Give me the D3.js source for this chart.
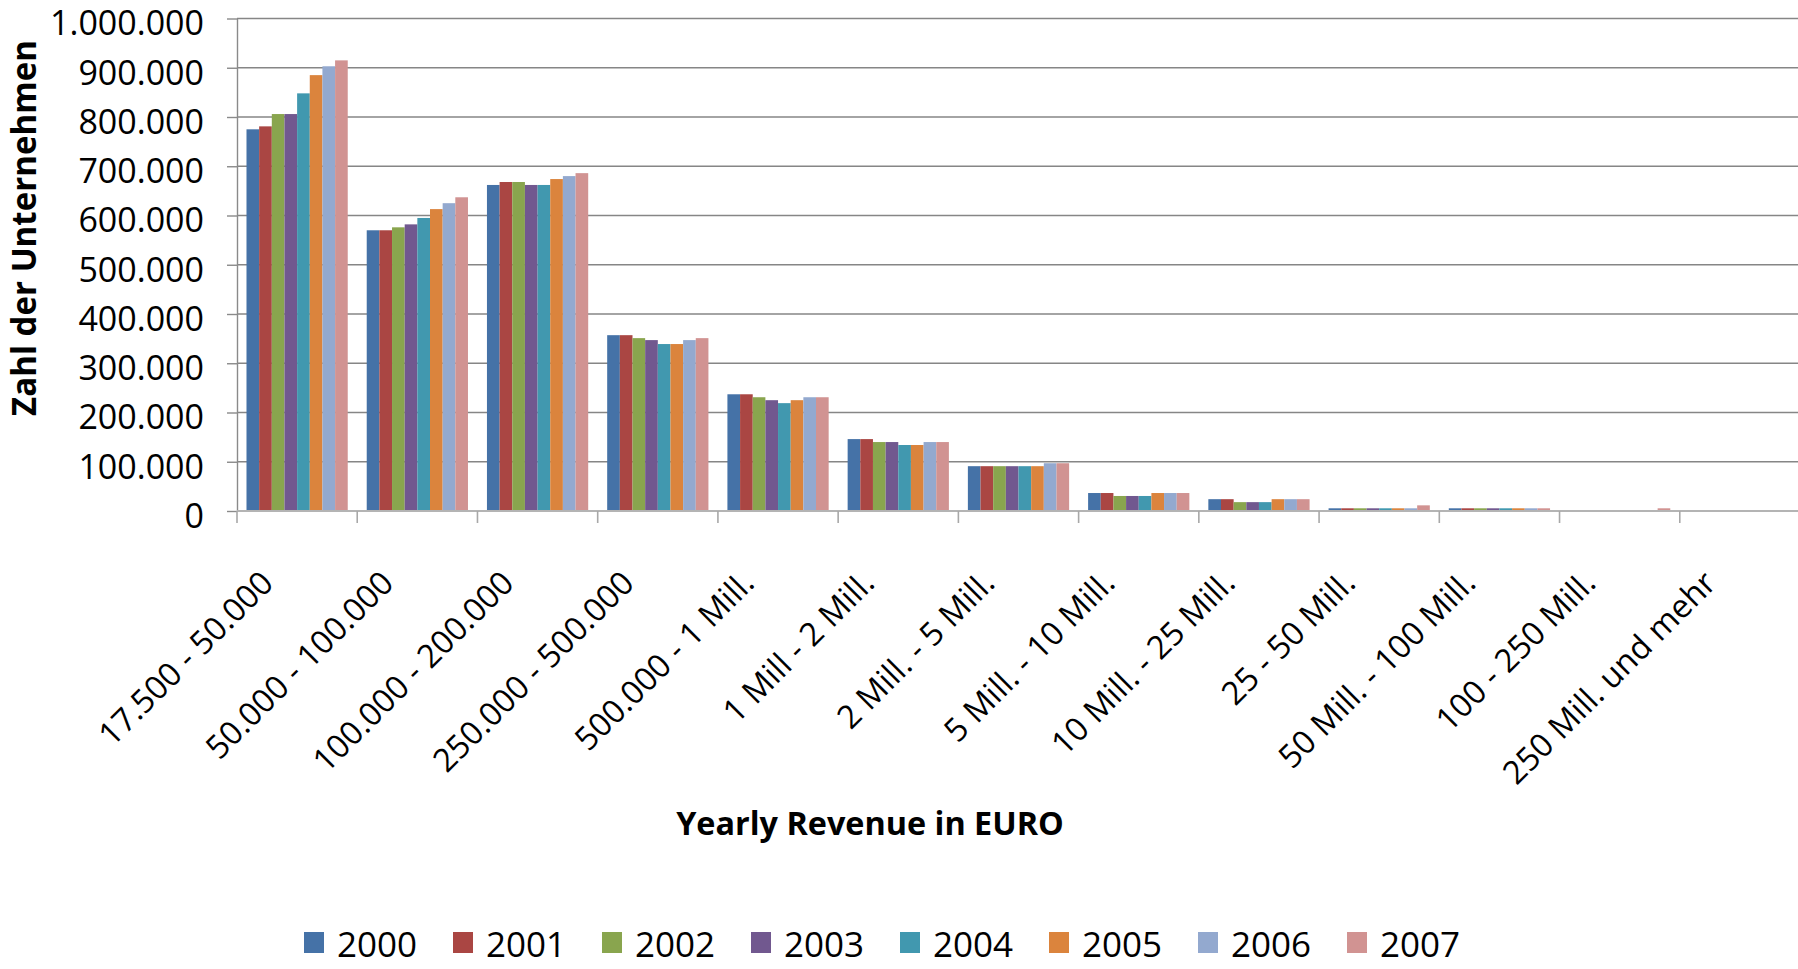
<!DOCTYPE html>
<html>
<head>
<meta charset="utf-8">
<script src="https://cdn.jsdelivr.net/npm/d3@7"></script>
<style>
  html, body { margin: 0; padding: 0; background: #ffffff; }
  svg { display: block; }
</style>
</head>
<body>
<svg id="chart" width="1798" height="969"></svg>
<script>
const categories = ["17.500 - 50.000", "50.000 - 100.000", "100.000 - 200.000", "250.000 - 500.000",
  "500.000 - 1 Mill.", "1 Mill - 2 Mill.", "2 Mill. - 5 Mill.", "5 Mill. - 10 Mill.",
  "10 Mill. - 25 Mill.", "25 - 50 Mill.", "50 Mill. - 100 Mill.", "100 - 250 Mill.", "250 Mill. und mehr"];
const years = ["2000", "2001", "2002", "2003", "2004", "2005", "2006", "2007"];
const v2000 = [775000, 570000, 662000, 357000, 237000, 146000, 91000, 36500, 24000, 5500, 5500, 0, 0];
const v2001 = [781000, 570000, 668000, 357000, 237000, 146000, 91000, 36500, 24000, 5500, 5500, 0, 0];
const v2002 = [806000, 576000, 668000, 351000, 231000, 140000, 91000, 30500, 18000, 5500, 5500, 0, 0];
const v2003 = [806000, 582000, 662000, 347000, 225000, 140000, 91000, 30500, 18000, 5500, 5500, 0, 0];
const v2004 = [848000, 595000, 662000, 339000, 219000, 134000, 91000, 30500, 18000, 5500, 5500, 0, 0];
const v2005 = [885000, 613000, 674000, 339000, 225000, 134000, 91000, 36500, 24000, 5500, 5500, 0, 0];
const v2006 = [903000, 625000, 680000, 347000, 231000, 140000, 97000, 36500, 24000, 5500, 5500, 0, 0];
const v2007 = [915000, 637000, 686000, 351000, 231000, 140000, 97000, 36500, 24000, 11500, 5500, 5500, 0];
const seriesValues = [v2000, v2001, v2002, v2003, v2004, v2005, v2006, v2007];
const colors = ["#4572A7", "#AA4643", "#89A54E", "#71588F", "#4198AF", "#DB843D", "#93A9CF", "#D19392"];
const yTicks = [0, 100000, 200000, 300000, 400000, 500000, 600000, 700000, 800000, 900000, 1000000];
const yTitle = "Zahl der Unternehmen";
const xTitle = "Yearly Revenue in EURO";

const W = 1798, H = 969;
const plotLeft = 237, plotRight = 1800, plotTop = 18.5, plotBottom = 511;
const font = "'Open Sans', sans-serif";

const svg = d3.select("#chart");
svg.append("rect").attr("width", W).attr("height", H).attr("fill", "#fff");

const y = d3.scaleLinear().domain([0, 1000000]).range([plotBottom, plotTop]);
const x0 = d3.scaleBand().domain(categories).range([plotLeft, plotRight]);
const bw = x0.bandwidth();
const barW = bw / 9.5;
const x1 = d3.scaleBand().domain(years).range([0.75 * barW, bw - 0.75 * barW]);
const color = d3.scaleOrdinal().domain(years).range(colors);

const de = d3.formatLocale({decimal: ",", thousands: ".", grouping: [3], currency: ["", " €"]});
const fmt = de.format(",d");

// gridlines
svg.append("g").selectAll("line").data(yTicks.filter(d => d > 0)).join("line")
  .attr("x1", plotLeft).attr("x2", W)
  .attr("y1", d => y(d)).attr("y2", d => y(d))
  .attr("stroke", "#868686").attr("stroke-width", 1.4);

// bars
const groups = svg.append("g").selectAll("g").data(categories).join("g")
  .attr("transform", c => `translate(${x0(c)},0)`);
groups.selectAll("rect")
  .data((c, ci) => years.map((yr, si) => ({yr, v: seriesValues[si][ci]})))
  .join("rect")
  .attr("x", d => x1(d.yr))
  .attr("width", x1.bandwidth())
  .attr("y", d => y(d.v))
  .attr("height", d => y(0) - y(d.v))
  .attr("fill", d => color(d.yr));

// y axis
const yAxis = d3.axisLeft(y).tickValues(yTicks).tickFormat(fmt).tickSize(10).tickSizeOuter(0).tickPadding(23);
const gy = svg.append("g").attr("transform", `translate(${plotLeft},0)`).call(yAxis);
gy.select(".domain").attr("stroke", "#8a8a8a").attr("stroke-width", 1.4);
gy.selectAll(".tick line").attr("stroke", "#8a8a8a").attr("stroke-width", 1.4);
gy.selectAll(".tick text").attr("font-family", font).attr("font-size", 34).attr("fill", "#000")
  .attr("dy", "0.48em");

// x axis (line + boundary ticks)
const gx = svg.append("g");
gx.append("line").attr("x1", plotLeft).attr("x2", W).attr("y1", y(0)).attr("y2", y(0))
  .attr("stroke", "#b4b4b4").attr("stroke-width", 1.8);
gx.selectAll("line.tk").data(categories).join("line").attr("class", "tk")
  .attr("x1", c => x0(c)).attr("x2", c => x0(c))
  .attr("y1", y(0)).attr("y2", y(0) + 12)
  .attr("stroke", "#a8a8a8").attr("stroke-width", 1.6);
gx.selectAll("text").data(categories).join("text")
  .attr("transform", c => `translate(${x0(c) + bw / 2 - 22},${y(0) + 74}) rotate(-45)`)
  .attr("text-anchor", "end")
  .attr("font-family", font).attr("font-size", 32.5).attr("fill", "#000")
  .text(c => c);

// axis titles (bold, sized to the reference's extent)
function fitText(sel, target) {
  const len = sel.node().getComputedTextLength();
  sel.attr("font-size", 30 * target / len);
}
const yt = svg.append("text")
  .attr("transform", `translate(36,228) rotate(-90)`)
  .attr("text-anchor", "middle")
  .attr("font-family", font).attr("font-weight", "bold").attr("font-size", 30)
  .text(yTitle);
fitText(yt, 376);
const xt = svg.append("text")
  .attr("x", 870).attr("y", 835)
  .attr("text-anchor", "middle")
  .attr("font-family", font).attr("font-weight", "bold").attr("font-size", 30)
  .text(xTitle);
fitText(xt, 388);

// legend
const lg = svg.append("g").attr("transform", "translate(304,932)");
const items = lg.selectAll("g").data(years).join("g")
  .attr("transform", (d, i) => `translate(${i * 149},0)`);
items.append("rect").attr("width", 20).attr("height", 21).attr("fill", d => color(d));
items.append("text").attr("x", 33).attr("y", 25)
  .attr("font-family", font).attr("font-size", 35).attr("fill", "#000")
  .text(d => d);
</script>
</body>
</html>
